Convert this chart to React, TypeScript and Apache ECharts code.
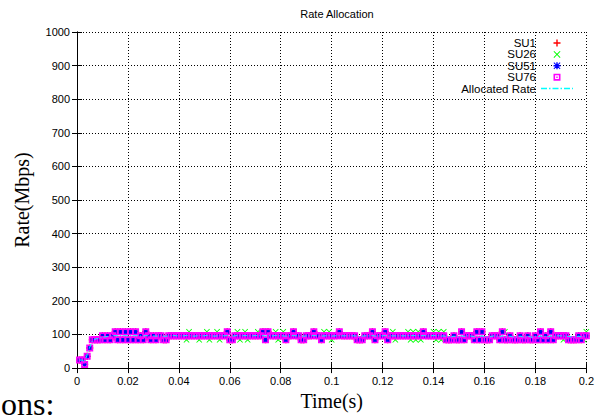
import React, { useEffect, useRef } from "react";
import * as echarts from "echarts";

const TITLE = "Rate Allocation";
const X_NAME = "Time(s)";
const Y_NAME = "Rate(Mbps)";
const CUT_TEXT = "ons:";

// time axis
const X_MIN = 0;
const X_MAX = 0.2;
const X_INTERVAL = 0.02;
const Y_MIN = 0;
const Y_MAX = 1000;
const Y_INTERVAL = 100;

// samples are every 1 ms, starting at 1 ms
const T_START = 0.001;
const T_STEP = 0.001;

const su1 = [
  24, 24, 11, 35, 60, 84, 84, 84, 84, 96,
  84, 96, 84, 96, 108, 84, 108, 84, 108, 84,
  108, 84, 108, 84, 96, 84, 108, 96, 84, 96,
  84, 96, 96, 84, 84, 96, 96, 96, 96, 96,
  96, 96, 96, 96, 96, 96, 96, 96, 96, 96,
  96, 96, 96, 96, 96, 96, 96, 96, 108, 84,
  84, 96, 96, 96, 96, 96, 96, 96, 96, 96,
  96, 96, 108, 84, 108, 96, 96, 96, 96, 96,
  96, 84, 96, 96, 108, 96, 96, 84, 84, 96,
  96, 96, 108, 96, 96, 84, 96, 96, 96, 96,
  96, 96, 108, 96, 96, 96, 96, 96, 96, 84,
  84, 84, 96, 96, 96, 108, 84, 96, 96, 96,
  108, 84, 96, 96, 96, 96, 96, 96, 96, 96,
  96, 96, 96, 96, 96, 108, 96, 96, 96, 96,
  96, 96, 96, 96, 84, 84, 84, 96, 84, 84,
  108, 84, 96, 96, 96, 84, 108, 84, 108, 84,
  84, 84, 96, 96, 96, 84, 108, 84, 84, 96,
  84, 84, 84, 96, 84, 84, 96, 84, 84, 96,
  84, 108, 84, 96, 84, 108, 84, 96, 96, 96,
  96, 96, 84, 84, 84, 84, 96, 84, 96, 96,
];

const su26 = [
  24, 24, 11, 35, 60, 84, 84, 84, 84, 96,
  84, 96, 84, 96, 108, 84, 108, 84, 108, 84,
  108, 84, 108, 84, 96, 84, 108, 96, 84, 96,
  84, 96, 96, 84, 84, 96, 96, 96, 96, 96,
  96, 96, 84, 108, 96, 96, 96, 84, 96, 96,
  108, 84, 96, 96, 108, 84, 96, 96, 108, 84,
  84, 96, 108, 84, 96, 108, 84, 96, 96, 96,
  108, 96, 108, 84, 108, 96, 96, 108, 84, 96,
  108, 84, 96, 96, 108, 96, 96, 84, 84, 96,
  96, 96, 108, 96, 96, 84, 108, 96, 108, 84,
  96, 96, 108, 96, 96, 96, 96, 96, 96, 84,
  84, 84, 96, 96, 96, 108, 84, 96, 96, 96,
  108, 84, 96, 108, 84, 96, 96, 96, 96, 108,
  84, 108, 84, 108, 84, 108, 96, 96, 96, 108,
  84, 108, 84, 108, 84, 84, 84, 96, 84, 84,
  108, 84, 96, 96, 96, 84, 108, 84, 108, 84,
  84, 84, 96, 96, 96, 84, 108, 108, 84, 96,
  84, 84, 84, 96, 84, 84, 96, 84, 84, 96,
  84, 108, 84, 96, 84, 108, 84, 96, 96, 96,
  84, 96, 84, 84, 84, 84, 96, 84, 84, 108,
];

// SU51 and SU76 sit exactly on SU1 in the picture
const su51 = [...su1];
const su76 = [...su1];

const allocated = [
  24, 24, 18, 40, 62, 80, 86, 88, 90, 92,
  93, 94, 95, 96, 97, 96, 97, 96, 97, 96,
  97, 96, 97, 96, 96, 95, 97, 96, 95, 96,
  95, 96, 96, 95, 95, 96, 96, 97, 96, 96,
  96, 96, 97, 96, 96, 95, 96, 97, 96, 96,
  97, 96, 96, 95, 96, 97, 96, 96, 97, 95,
  95, 96, 97, 96, 96, 97, 96, 96, 96, 97,
  96, 96, 97, 95, 97, 96, 96, 97, 96, 96,
  96, 95, 96, 96, 97, 96, 96, 95, 95, 96,
  96, 96, 97, 96, 96, 95, 96, 96, 97, 95,
  96, 96, 97, 96, 96, 96, 96, 96, 96, 95,
  94, 95, 96, 96, 96, 97, 95, 96, 96, 96,
  97, 95, 96, 96, 96, 96, 96, 96, 96, 97,
  96, 97, 96, 97, 96, 97, 96, 96, 96, 97,
  96, 97, 95, 96, 94, 94, 93, 95, 93, 94,
  96, 94, 96, 96, 95, 93, 96, 94, 96, 93,
  93, 92, 95, 96, 95, 93, 96, 94, 93, 95,
  93, 92, 93, 95, 93, 92, 95, 93, 92, 95,
  93, 96, 93, 95, 93, 96, 94, 96, 96, 96,
  95, 96, 94, 93, 93, 93, 95, 93, 95, 96,
];

const NAMES = ["SU1", "SU26", "SU51", "SU76", "Allocated Rate"];
const COLORS = ["#ff0000", "#00ff00", "#0000ff", "#ff00ff", "#00ffff"];

const PLUS = "path://M4,0L6,0L6,4L10,4L10,6L6,6L6,10L4,10L4,6L0,6L0,4L4,4Z";
const CROSS = "path://M0,1L1,0L5,4L9,0L10,1L6,5L10,9L9,10L5,6L1,10L0,9L4,5Z";
const STAR =
  "path://M4,0L6,0L6,4L10,4L10,6L6,6L6,10L4,10L4,6L0,6L0,4L4,4Z M0,1L1,0L5,4L9,0L10,1L6,5L10,9L9,10L5,6L1,10L0,9L4,5Z";
const BOX = "path://M0,0L10,0L10,10L0,10Z M2.3,2.3L2.3,7.7L7.7,7.7L7.7,2.3Z";
const BOX_DOT =
  "path://M0,0L10,0L10,10L0,10Z M2.3,2.3L2.3,7.7L7.7,7.7L7.7,2.3Z M4,4L6,4L6,6L4,6Z";
const DASH_DOT =
  "path://M0,0H6V1.5H0Z M8,0H9.5V1.5H8Z M11.5,0H17.5V1.5H11.5Z M19.5,0H21V1.5H19.5Z M23,0H29V1.5H23Z M31,0H32V1.5H31Z";

function toPoints(values: number[]) {
  return values.map((v, i) => [+(T_START + i * T_STEP).toFixed(4), v]);
}

const SANS = "Liberation Sans";
const SERIF = "Liberation Serif";

export default function App() {
  const ref = useRef<HTMLDivElement>(null);

  useEffect(() => {
    if (!ref.current) return;
    const chart = echarts.init(ref.current, undefined, { renderer: "svg" });

    const axisLine = { show: true, lineStyle: { color: "#000", width: 1 } };
    const axisTick = { show: true, inside: true, length: 5, lineStyle: { color: "#000", width: 1 } };
    const splitLine = { show: true, lineStyle: { color: "#000", width: 1, type: [1, 2] as any } };
    const label = { color: "#000", fontSize: 11, fontFamily: SANS };

    const scatter = (idx: number, values: number[], symbol: string, size: number) => ({
      name: NAMES[idx],
      type: "scatter" as const,
      data: toPoints(values),
      symbol,
      symbolSize: size,
      itemStyle: { color: COLORS[idx], opacity: 1 },
      xAxisIndex: 0,
      yAxisIndex: 0,
      z: 2 + idx,
    });

    chart.setOption({
      animation: false,
      backgroundColor: "#fff",
      title: {
        text: TITLE,
        left: 332,
        top: 3,
        textAlign: "center",
        textStyle: { fontSize: 11, fontWeight: "normal", color: "#000", fontFamily: SANS },
      },
      legend: {
        orient: "vertical",
        right: 19,
        top: 32,
        align: "right",
        itemWidth: 32,
        itemHeight: 7,
        itemGap: -0.6,
        selectedMode: false,
        textStyle: { fontSize: 11.5, color: "#000", fontFamily: SANS },
        data: [
          { name: NAMES[0], icon: PLUS },
          { name: NAMES[1], icon: CROSS },
          { name: NAMES[2], icon: STAR },
          { name: NAMES[3], icon: BOX_DOT },
          { name: NAMES[4], icon: DASH_DOT },
        ],
      },
      grid: { left: 77, right: 9, top: 32, bottom: 37, containLabel: false },
      xAxis: [
        {
          type: "value",
          position: "bottom",
          min: X_MIN,
          max: X_MAX,
          interval: X_INTERVAL,
          name: X_NAME,
          nameLocation: "middle",
          nameGap: 14,
          nameTextStyle: { fontFamily: SERIF, fontSize: 20, color: "#000", verticalAlign: "top" },
          axisLine,
          axisTick,
          axisLabel: { ...label, margin: 7, formatter: (v: number) => String(+v.toFixed(2)) },
          splitLine,
        },
        {
          type: "value",
          position: "top",
          min: X_MIN,
          max: X_MAX,
          interval: X_INTERVAL,
          axisLine,
          axisTick,
          axisLabel: { show: false },
          splitLine: { show: false },
        },
      ],
      yAxis: [
        {
          type: "value",
          position: "left",
          min: Y_MIN,
          max: Y_MAX,
          interval: Y_INTERVAL,
          name: Y_NAME,
          nameLocation: "middle",
          nameGap: 45,
          nameTextStyle: { fontFamily: SERIF, fontSize: 20, color: "#000" },
          axisLine,
          axisTick,
          axisLabel: { ...label, margin: 7, formatter: (v: number) => String(v) },
          splitLine,
        },
        {
          type: "value",
          position: "right",
          min: Y_MIN,
          max: Y_MAX,
          interval: Y_INTERVAL,
          axisLine,
          axisTick,
          axisLabel: { show: false },
          splitLine: { show: false },
        },
      ],
      graphic: [
        {
          type: "text",
          x: 1,
          y: 404,
          silent: true,
          style: {
            text: CUT_TEXT,
            font: `32px "${SERIF}"`,
            fill: "#000",
            textAlign: "left",
            textVerticalAlign: "middle",
          },
        },
      ],
      series: [
        scatter(0, su1, PLUS, 7),
        scatter(1, su26, CROSS, 6),
        scatter(2, su51, STAR, 6),
        scatter(3, su76, BOX, 7),
        {
          name: NAMES[4],
          type: "line",
          data: toPoints(allocated),
          symbol: "none",
          showSymbol: false,
          lineStyle: { color: COLORS[4], width: 1, type: [5, 2, 1, 2] as any },
          itemStyle: { color: COLORS[4] },
          xAxisIndex: 0,
          yAxisIndex: 0,
          z: 10,
        },
      ],
    });

    return () => chart.dispose();
  }, []);

  return (
    <div
      ref={ref}
      style={{ position: "absolute", left: 0, top: 0, width: 597, height: 416 }}
    />
  );
}
